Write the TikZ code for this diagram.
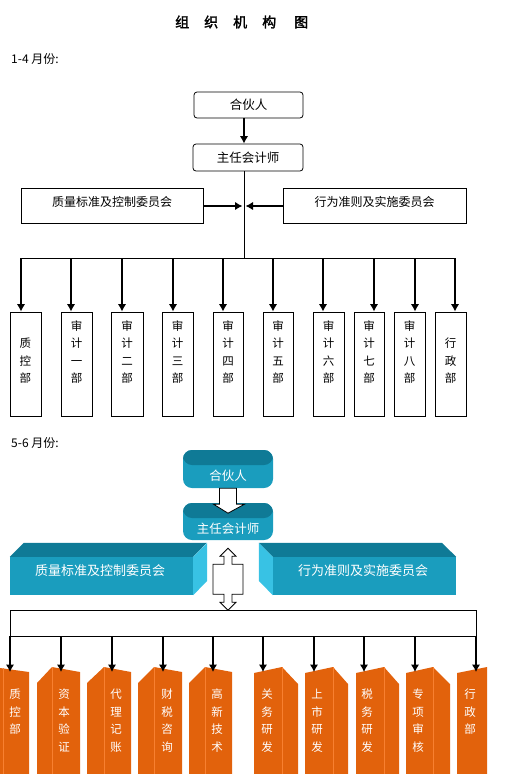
\documentclass[tikz,border=0pt]{standalone}
\usepackage{fontspec}
\setmainfont{Noto Sans CJK SC}
\newfontfamily\titlefont{Noto Sans CJK SC}[FakeBold=2]
\usetikzlibrary{arrows.meta}
\definecolor{tealF}{HTML}{1A9DBE}
\definecolor{tealT}{HTML}{0F7A96}
\definecolor{tealS}{HTML}{38C2E4}
\definecolor{orangeF}{HTML}{E2620C}
\definecolor{orangeL}{HTML}{F88030}
\begin{document}
\begin{tikzpicture}[x=1pt,y=-1pt,
  every node/.style={inner sep=0pt, font=\fontsize{12}{14}\selectfont},
  box/.style={draw, line width=0.8pt},
  thinline/.style={line width=0.8pt},
  arr/.style={line width=2pt, -{Latex[length=7.5pt,width=8.5pt]}},
  vtext/.style={align=center, font=\fontsize{11.5}{17.5}\selectfont},
  wvtext/.style={align=center, text=white, font=\fontsize{11.5}{17.5}\selectfont},
  wtext/.style={text=white, font=\fontsize{12.5}{14}\selectfont},
  hollow/.style={draw, line width=0.8pt, fill=white},
  pillow/.style={minimum width=90pt, rounded corners=9pt, fill=tealF,
    path picture={\fill[tealT] (path picture bounding box.north west) rectangle ([yshift=-15pt]path picture bounding box.north east);}},
  orange/.style={fill=orangeF},
  fold/.style={draw=orangeL, line width=0.8pt}
  ]
\useasboundingbox (0,0) rectangle (512,774);

% title and section labels
\node[anchor=west, font=\fontsize{14}{16}\titlefont] (title) at (175,22) {组\hspace{15pt}织\hspace{15pt}机\hspace{15pt}构\hspace{18pt}图};
\node[anchor=west] (lab1) at (11,59) {1-4 月份:};
\node[anchor=west] (lab2) at (11,443) {5-6 月份:};

% ---------- part 1 ----------
\coordinate (sp) at (244,0);
\node[box, rounded corners=3pt, minimum width=109pt, minimum height=26pt, font=\fontsize{12.5}{14}\selectfont] (p1) at (248.5,105) {合伙人};
\node[box, rounded corners=3pt, minimum width=110pt, minimum height=27pt, font=\fontsize{12.5}{14}\selectfont] (p2) at (248,157.5) {主任会计师};
\node[box, minimum width=182pt, minimum height=35pt] (q1) at (112,205.5) {};
\node (q1t) at (112,202) {质量标准及控制委员会};
\node[box, minimum width=183pt, minimum height=35pt] (q2) at (374.5,205.5) {};
\node (q2t) at (374.5,202) {行为准则及实施委员会};
\coordinate (J) at (244,206);

\draw[arr] (p1.south -| sp) -- (p2.north -| sp);
\draw[arr] (q1.east |- J) -- ([xshift=-1.5pt]J);
\draw[arr] (q2.west |- J) -- ([xshift=1.5pt]J);

\foreach \i/\l/\r/\a/\t in {
  1/10/41/21/{质\\控\\部},
  2/61/92/71/{审\\计\\一\\部},
  3/111/143/122/{审\\计\\二\\部},
  4/162/193/173/{审\\计\\三\\部},
  5/213/243/223/{审\\计\\四\\部},
  6/263/293/273/{审\\计\\五\\部},
  7/313/344/323/{审\\计\\六\\部},
  8/354/384/374/{审\\计\\七\\部},
  9/394/425/415/{审\\计\\八\\部},
  10/435/466/455/{行\\政\\部}}{
  \node[box, minimum width={\r pt-\l pt}, minimum height=104pt] (d\i) at ({(\l+\r)/2},364) {};
  \node[vtext, anchor=south] (dt\i) at ({(\l+\r)/2},384) {\t};
  \coordinate (ba\i) at (\a,258);
  \draw[arr] (ba\i) -- (ba\i |- d\i.north);
}
\draw[thinline] (p2.south -| sp) -- (sp |- ba1);
\draw[thinline] (ba1) -- (ba10);

% ---------- part 2 ----------
\node[pillow, minimum height=38pt] (r1) at (228,469) {};
\node[wtext] (r1t) at (228,476) {合伙人};
\node[pillow, minimum height=37pt] (r2) at (228,521.5) {};
\node[wtext] (r2t) at (228,529) {主任会计师};

\draw[hollow, shift={(r1.south)}] (-8.5,0) -- (8.5,0) -- (8.5,16) -- (16.5,16) -- (0,25) -- (-14.5,16) -- (-8.5,16) -- cycle;

% committees (3D boxes)
\node[fill=tealF, minimum width=183pt, minimum height=38pt] (c1) at (101.5,576) {};
\fill[tealT] (c1.north west) -- ++(14,-14) -- ++(183,0) -- (c1.north east) -- cycle;
\fill[tealS] (c1.north east) -- ++(14,-14) -- ++(0,38) -- (c1.south east) -- cycle;
\node[wtext, font=\fontsize{13}{15}\selectfont] (c1t) at (100,571) {质量标准及控制委员会};

\node[fill=tealF, minimum width=183pt, minimum height=38pt] (c2) at (364.5,576) {};
\fill[tealT] (c2.north west) -- ++(-14,-14) -- ++(183,0) -- (c2.north east) -- cycle;
\fill[tealS] (c2.north west) -- ++(-14,-14) -- ++(0,38) -- (c2.south west) -- cycle;
\node[wtext, font=\fontsize{13}{15}\selectfont] (c2t) at (363,571) {行为准则及实施委员会};

% bus
\node[draw, thinline, minimum width=466pt, minimum height=26pt] (bus) at (243,623) {};

% double hollow arrow
\draw[hollow, shift={(r2.south)}] (0,8) -- (-8,16) -- (-4,16) -- (-4,24) -- (-15,24) -- (-15,54) -- (-4,54) -- (-4,62) -- (-8,62) -- (0,70) -- (8,62) -- (4,62) -- (4,54) -- (15,54) -- (15,24) -- (4,24) -- (4,16) -- (8,16) -- cycle;

% orange tabs
\fill[orange] (0,668) -- (29,672) -- (29,774) -- (0,774) -- cycle;
\fill[orange] (37,683) -- (52,667) -- (80,672) -- (80,774) -- (37,774) -- cycle;
\fill[orange] (87,683) -- (104,667) -- (131,672) -- (131,774) -- (87,774) -- cycle;
\fill[orange] (138,683) -- (154,667) -- (182,672) -- (182,774) -- (138,774) -- cycle;
\fill[orange] (189,683) -- (205,667) -- (232,672) -- (232,774) -- (189,774) -- cycle;
\fill[orange] (254,673) -- (282,667) -- (298,684) -- (298,774) -- (254,774) -- cycle;
\fill[orange] (305,673) -- (333,667) -- (348,684) -- (348,774) -- (305,774) -- cycle;
\fill[orange] (356,673) -- (384,667) -- (399,684) -- (399,774) -- (356,774) -- cycle;
\fill[orange] (406,673) -- (433,667) -- (450,684) -- (450,774) -- (406,774) -- cycle;
\fill[orange] (457,673) -- (487,667) -- (487,774) -- (457,774) -- cycle;
\foreach \fx/\fy in {3/668,52/667,104/667,154/667,205/667,282/667,333/667,384/667,433/667}{
  \draw[fold] (\fx,\fy) -- (\fx,774);
}

\foreach \i/\ax/\tx/\t in {
  1/10/15/{质\\控\\部},
  2/61/64/{资\\本\\验\\证},
  3/112/116/{代\\理\\记\\账},
  4/163/167/{财\\税\\咨\\询},
  5/213/217/{高\\新\\技\\术},
  6/263/267/{关\\务\\研\\发},
  7/314/317/{上\\市\\研\\发},
  8/364/367/{税\\务\\研\\发},
  9/415/418/{专\\项\\审\\核},
  10/476/470/{行\\政\\部}}{
  \coordinate (ot\i) at (\ax,672);
  \draw[arr] (bus.south -| ot\i) -- (ot\i);
  \node[wvtext, anchor=north] (ob\i) at (\tx,689) {\t};
}
\end{tikzpicture}
\end{document}
